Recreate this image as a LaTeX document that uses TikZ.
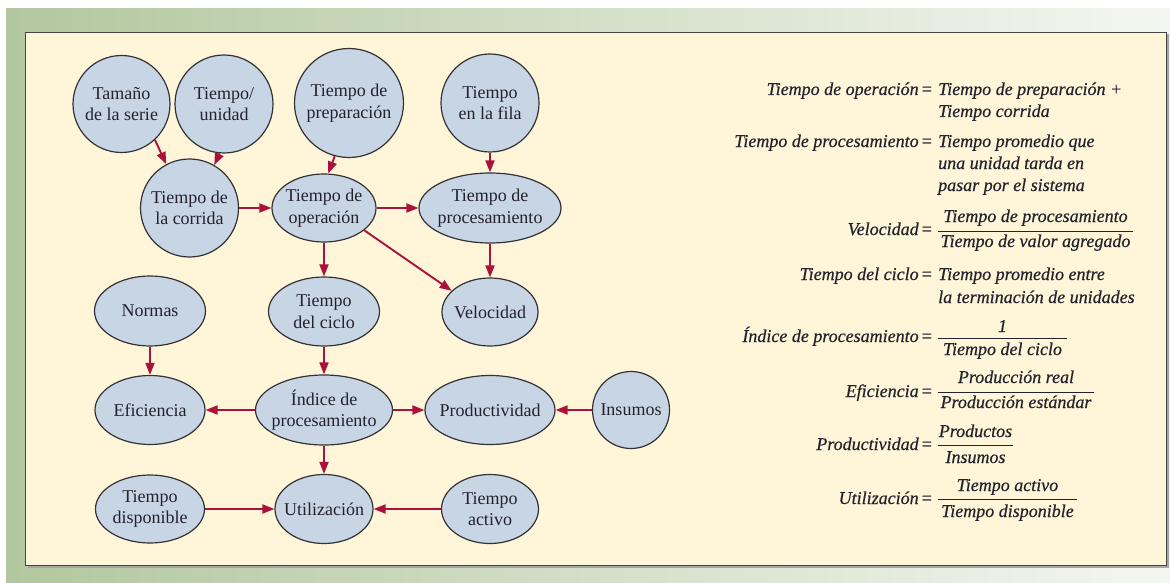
\documentclass[tikz,border=0pt]{standalone}
\usepackage{fontspec}
\setmainfont{Liberation Serif}
\newfontfamily\eqfont{Liberation Serif}[ItalicFeatures={FakeBold=0.5}]
\usetikzlibrary{shapes.geometric,arrows.meta}

\definecolor{panelbg}{RGB}{255,245,216}
\definecolor{frameL}{RGB}{178,199,158}
\definecolor{frameR}{RGB}{244,247,241}
\definecolor{panelline}{RGB}{70,70,70}
\definecolor{nodefill}{RGB}{200,213,229}
\definecolor{nodeline}{RGB}{50,50,55}
\definecolor{arrowred}{RGB}{170,18,60}
\definecolor{txt}{RGB}{35,35,45}

\tikzset{
  base/.style={draw=nodeline, line width=1.2pt, fill=nodefill, text=txt,
    align=center, inner xsep=-15pt, inner ysep=0pt,
    font=\fontsize{18}{21.5}\selectfont},
  circ/.style={base, circle, minimum size=#1},
  ell/.style 2 args={base, ellipse, minimum width=#1, minimum height=#2},
  link/.style={draw=arrowred, line width=1.9pt, -{Triangle[length=12pt,width=9pt]}},
  eqtxt/.style={text=txt, inner sep=0pt, font=\fontsize{18}{23}\eqfont\itshape},
  lhs/.style={eqtxt, anchor=base east},
  rhs/.style={eqtxt, anchor=base west},
  num/.style={eqtxt, anchor=base},
  bar/.style={draw=txt, line width=1pt},
}

\begin{document}
\begin{tikzpicture}[x=1pt, y=-1pt]
  \useasboundingbox (0,0) rectangle (1170,583);
  % outer frame
  \fill[white] (0,0) rectangle (1170,583);
  \shade[left color=frameL, right color=frameR] (6,9) rectangle (1170,583);
  % panel with soft shadow
  \fill[black!35] (27.5,34.5) rectangle (1169,567.5);
  \draw[fill=panelbg, draw=panelline, line width=1.5pt] (25.5,32.5) rectangle (1166.5,565.5);

  % concept nodes
  \node[circ=97]  (tam)  at (121.5,104) {Tamaño\\de la serie};
  \node[circ=98]  (uni)  at (224,104)   {Tiempo/\\unidad};
  \node[circ=109] (prep) at (349,103)   {Tiempo de\\preparación};
  \node[circ=98]  (fila) at (490,103)   {Tiempo\\en la fila};
  \node[circ=98]  (corr) at (189.5,208) {Tiempo de\\la corrida};
  \node[ell={104}{68}] (oper) at (324,208)   {Tiempo de\\operación};
  \node[ell={142}{70}] (proc) at (490,208)   {Tiempo de\\procesamiento};
  \node[ell={96}{68}]  (vel)  at (490,312)   {Velocidad};
  \node[ell={111}{70}] (norm) at (150,311)   {Normas};
  \node[ell={111}{69}] (cic)  at (324,311.5) {Tiempo\\del ciclo};
  \node[ell={110}{69}] (efi)  at (150,410) {Eficiencia};
  \node[ell={137}{70}] (ind)  at (324,410) {Índice de\\procesamiento};
  \node[ell={130}{69}] (prod) at (490,410) {Productividad};
  \node[circ=77]       (ins)  at (631,410) {Insumos};
  \node[ell={109}{68}] (disp) at (150,509)   {Tiempo\\disponible};
  \node[ell={98}{69}]  (util) at (324,509)   {Utilización};
  \node[ell={97}{69}]  (act)  at (490,509)   {Tiempo\\activo};

  % connectors
  \draw[link] (tam.-47)   -- (corr.118);
  \draw[link] (uni.-95)   -- (corr.60);
  \draw[link] (prep.-105) -- (oper.83);
  \draw[link] (corr.east) -- (oper.west);
  \draw[link] (oper.east) -- (proc.west);
  \draw[link] (fila.south) -- (proc.north);
  \draw[link] (oper.-29)  -- (vel.151);
  \draw[link] (proc.south) -- (vel.north);
  \draw[link] (oper.south) -- (cic.north);
  \draw[link] (norm.south) -- (efi.north);
  \draw[link] (cic.south) -- (ind.north);
  \draw[link] (ind.west)  -- (efi.east);
  \draw[link] (ind.east)  -- (prod.west);
  \draw[link] (ins.west)  -- (prod.east);
  \draw[link] (ind.south) -- (util.north);
  \draw[link] (disp.east) -- (util.west);
  \draw[link] (act.west)  -- (util.east);

  % definitions
  \node[lhs] (e1l) at (933,95) {Tiempo de operación\hspace{2pt}=};
  \node[rhs] (e1a) at (938,95) {Tiempo de preparación +};
  \node[rhs] (e1b) at (938,117) {Tiempo corrida};

  \node[lhs] (e2l) at (933,147) {Tiempo de procesamiento\hspace{2pt}=};
  \node[rhs] (e2a) at (938,147) {Tiempo promedio que};
  \node[rhs] (e2b) at (938,169) {una unidad tarda en};
  \node[rhs] (e2c) at (938,191) {pasar por el sistema};

  \node[lhs] (e3l) at (933,235) {Velocidad\hspace{2pt}=};
  \coordinate (b3a) at (938,231); \coordinate (b3b) at (1133,231);
  \draw[bar] (b3a) -- (b3b);
  \node[num] (e3n) at (1035.5,222) {Tiempo de procesamiento};
  \node[num] (e3d) at (1035.5,247) {Tiempo de valor agregado};

  \node[lhs] (e4l) at (933,280) {Tiempo del ciclo\hspace{2pt}=};
  \node[rhs] (e4a) at (938,280) {Tiempo promedio entre};
  \node[rhs] (e4b) at (938,303) {la terminación de unidades};

  \node[lhs] (e5l) at (933,342) {Índice de procesamiento\hspace{2pt}=};
  \coordinate (b5a) at (938,338); \coordinate (b5b) at (1067,338);
  \draw[bar] (b5a) -- (b5b);
  \node[num] (e5n) at (1002.5,332) {1};
  \node[num] (e5d) at (1002.5,355) {Tiempo del ciclo};

  \node[lhs] (e6l) at (933,397) {Eficiencia\hspace{2pt}=};
  \coordinate (b6a) at (938,392); \coordinate (b6b) at (1094,392);
  \draw[bar] (b6a) -- (b6b);
  \node[num] (e6n) at (1016,383) {Producción real};
  \node[num] (e6d) at (1016,408) {Producción estándar};

  \node[lhs] (e7l) at (933,450) {Productividad\hspace{2pt}=};
  \coordinate (b7a) at (938,445); \coordinate (b7b) at (1013,445);
  \draw[bar] (b7a) -- (b7b);
  \node[num] (e7n) at (975.5,437) {Productos};
  \node[num] (e7d) at (975.5,463) {Insumos};

  \node[lhs] (e8l) at (933,504) {Utilización\hspace{2pt}=};
  \coordinate (b8a) at (938,499); \coordinate (b8b) at (1077,499);
  \draw[bar] (b8a) -- (b8b);
  \node[num] (e8n) at (1007.5,491) {Tiempo activo};
  \node[num] (e8d) at (1007.5,517) {Tiempo disponible};
\end{tikzpicture}
\end{document}
